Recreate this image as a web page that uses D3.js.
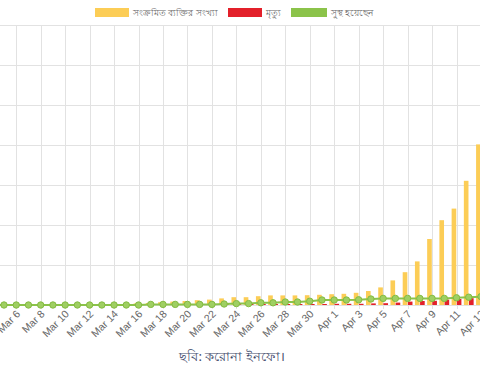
<!DOCTYPE html>
<meta charset="utf-8">
<style>
body { margin: 0; background: #fff; }
#chart { display: block; }
.tick-label { font: 10.5px "Liberation Sans", Arial, sans-serif; fill: #666; }
.legend text { font: 9px "Noto Sans", sans-serif; fill: #666; }
.caption { font: 13px "Noto Sans", sans-serif; fill: #3f4b6b; }
</style>
<svg id="chart" width="480" height="371"></svg>
<script src="https://cdn.jsdelivr.net/npm/d3@7"></script>
<script>

// Bangladesh, Mar 4 - Apr 13 (left part of the original chart is cropped)
var dates = ["Mar 4", "Mar 5", "Mar 6", "Mar 7", "Mar 8", "Mar 9", "Mar 10", "Mar 11", "Mar 12", "Mar 13",
  "Mar 14", "Mar 15", "Mar 16", "Mar 17", "Mar 18", "Mar 19", "Mar 20", "Mar 21", "Mar 22", "Mar 23",
  "Mar 24", "Mar 25", "Mar 26", "Mar 27", "Mar 28", "Mar 29", "Mar 30", "Mar 31", "Apr 1", "Apr 2",
  "Apr 3", "Apr 4", "Apr 5", "Apr 6", "Apr 7", "Apr 8", "Apr 9", "Apr 10", "Apr 11", "Apr 12", "Apr 13"];

var confirmed = [0, 0, 0, 0, 3, 3, 3, 3, 3, 3,
  3, 5, 8, 10, 14, 17, 20, 24, 27, 33,
  39, 39, 44, 48, 48, 48, 49, 51, 54, 56,
  61, 70, 88, 123, 164, 218, 330, 424, 482, 621, 803];

var deaths = [0, 0, 0, 0, 0, 0, 0, 0, 0, 0,
  0, 0, 0, 0, 1, 1, 1, 2, 2, 3,
  4, 5, 5, 5, 5, 5, 5, 5, 6, 6,
  6, 8, 9, 12, 17, 20, 21, 27, 30, 34, 46];

var recovered = [0, 0, 0, 0, 0, 0, 0, 0, 0, 0,
  0, 0, 0, 3, 3, 3, 3, 3, 3, 5,
  7, 7, 11, 11, 15, 15, 19, 25, 25, 25,
  26, 30, 33, 33, 33, 33, 33, 33, 36, 39, 42];

var yTicks = [0, 200, 400, 600, 800, 1000, 1200, 1400];
var legendLabels = ["সংক্রমিত ব্যক্তির সংখ্যা", "মৃত্যু", "সুস্থ হয়েছেন"];
var colors = ["#fccd56", "#e3202a", "#8bc34a"];

var svg = d3.select("#chart");

var step = 12.23;
var x = d3.scalePoint()
    .domain(dates)
    .range([4 - step, 4 + (dates.length - 2) * step]);

var inner = d3.scaleBand()
    .domain(["confirmed", "deaths"])
    .range([-0.4 * step, 0.4 * step])
    .paddingInner(0.1);

var y = d3.scaleLinear()
    .domain([0, 1400])
    .range([305, 25]);

// grid
svg.append("g").selectAll("line")
  .data(yTicks)
  .enter().append("line")
    .attr("x1", 0).attr("x2", 480)
    .attr("y1", function(d) { return y(d) + 0.5; })
    .attr("y2", function(d) { return y(d) + 0.5; })
    .attr("stroke", "#e2e2e2");

var labelled = dates.filter(function(d, i) { return i % 2 == 0; });

svg.append("g").selectAll("line")
  .data(labelled)
  .enter().append("line")
    .attr("x1", function(d) { return Math.round(x(d)) + 0.5; })
    .attr("x2", function(d) { return Math.round(x(d)) + 0.5; })
    .attr("y1", y(1400))
    .attr("y2", y(0) + 4)
    .attr("stroke", "#e2e2e2");

// bars
var rows = dates.map(function(d, i) {
  return { date: d, confirmed: confirmed[i], deaths: deaths[i], recovered: recovered[i] };
});

svg.append("g").selectAll("rect")
  .data(rows)
  .enter().append("rect")
    .attr("x", function(d) { return x(d.date) + inner("confirmed"); })
    .attr("width", inner.bandwidth())
    .attr("y", function(d) { return y(d.confirmed); })
    .attr("height", function(d) { return y(0) - y(d.confirmed); })
    .attr("fill", colors[0]);

svg.append("g").selectAll("rect")
  .data(rows)
  .enter().append("rect")
    .attr("x", function(d) { return x(d.date) + inner("deaths"); })
    .attr("width", inner.bandwidth())
    .attr("y", function(d) { return y(d.deaths); })
    .attr("height", function(d) { return y(0) - y(d.deaths); })
    .attr("fill", colors[1]);

// recovered line
var line = d3.line()
    .x(function(d) { return x(d.date); })
    .y(function(d) { return y(d.recovered); });

svg.append("path")
    .datum(rows)
    .attr("d", line)
    .attr("fill", "none")
    .attr("stroke", colors[2])
    .attr("stroke-width", 2);

svg.append("g").selectAll("circle")
  .data(rows)
  .enter().append("circle")
    .attr("cx", function(d) { return x(d.date); })
    .attr("cy", function(d) { return y(d.recovered); })
    .attr("r", 3.2)
    .attr("fill", "#9fcf62")
    .attr("stroke", "#84bb42")
    .attr("stroke-width", 1);

// x labels
svg.append("g").selectAll("text")
  .data(labelled)
  .enter().append("text")
    .attr("class", "tick-label")
    .attr("transform", function(d) { return "translate(" + (x(d) + 2) + "," + 312 + ") rotate(-45)"; })
    .attr("text-anchor", "end")
    .attr("dy", "0.35em")
    .text(function(d) { return d; });

// legend
var legendX = [95, 228, 291];
var legend = svg.selectAll(".legend")
  .data(legendLabels)
  .enter().append("g")
    .attr("class", "legend")
    .attr("transform", function(d, i) { return "translate(" + legendX[i] + ",8)"; });

legend.append("rect")
    .attr("width", function(d, i) { return i == 2 ? 36 : 34; })
    .attr("height", 9)
    .attr("fill", function(d, i) { return colors[i]; });

legend.append("text")
    .attr("x", function(d, i) { return i == 2 ? 40 : 38; })
    .attr("y", 8)
    .text(function(d) { return d; });

svg.append("text")
    .attr("class", "caption")
    .attr("x", 232)
    .attr("y", 361)
    .attr("text-anchor", "middle")
    .text("ছবি: করোনা ইনফো।");

</script>
